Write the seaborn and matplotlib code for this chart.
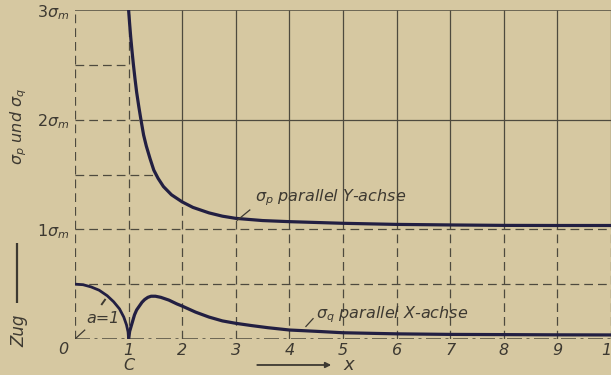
import numpy as np
import pandas as pd
import matplotlib
matplotlib.use("Agg")
import matplotlib.pyplot as plt
from matplotlib.lines import Line2D
import seaborn as sns

# ---------------- data ----------------
x_ticks = [1, 2, 3, 4, 5, 6, 7, 8, 9, 10]
x_tick_labels = ["1", "2", "3", "4", "5", "6", "7", "8", "9", "10"]
y_ticks = [1, 2, 3]
y_tick_labels = [r"$1\sigma_m$", r"$2\sigma_m$", r"$3\sigma_m$"]

# sigma_p (parallel Y-axis), in units of sigma_m
sigma_p_x = [1.0, 1.02, 1.04, 1.065, 1.09, 1.12, 1.15, 1.19, 1.23, 1.28, 1.33, 1.40,
             1.47, 1.55, 1.65, 1.80, 2.0, 2.2, 2.5, 2.75, 3.0, 3.5, 4.0, 5.0, 6.0,
             7.0, 8.0, 9.0, 10.0]
sigma_p = [3.0, 2.87, 2.75, 2.62, 2.5, 2.37, 2.25, 2.12, 2.0, 1.86, 1.76, 1.645,
           1.54, 1.465, 1.39, 1.315, 1.25, 1.20, 1.15, 1.12, 1.10, 1.08, 1.07, 1.055,
           1.045, 1.04, 1.036, 1.035, 1.035]

# sigma_q (parallel X-axis)
sigma_q_x = [1.0, 1.02, 1.05, 1.08, 1.11, 1.15, 1.2, 1.25, 1.3, 1.36, 1.42, 1.5,
             1.6, 1.75, 1.9, 2.0, 2.25, 2.5, 2.75, 3.0, 3.3, 3.6, 4.0, 4.5, 5.0,
             6.0, 7.0, 8.0, 9.0, 10.0]
sigma_q = [0.0, 0.07, 0.12, 0.17, 0.22, 0.265, 0.30, 0.335, 0.36, 0.38, 0.39, 0.39,
           0.38, 0.355, 0.32, 0.30, 0.245, 0.20, 0.165, 0.143, 0.122, 0.103, 0.082,
           0.07, 0.057, 0.047, 0.042, 0.04, 0.038, 0.037]

# outline of the hole (radius a = 1)
hole_x = [0.0, 0.15, 0.3, 0.45, 0.6, 0.72, 0.83, 0.91, 0.96, 0.99, 1.0]
hole_y = [0.5, 0.495, 0.475, 0.445, 0.395, 0.34, 0.275, 0.2, 0.13, 0.065, 0.0]

# ---------------- style ----------------
BG = "#d6c8a1"
INK = "#221f42"
GRID = "#4e4a3e"
TXT = "#3d3931"

sns.set_theme(style="white", rc={"figure.facecolor": BG, "axes.facecolor": BG})
plt.rcParams["font.family"] = ["DejaVu Sans"]
plt.rcParams["mathtext.fontset"] = "dejavusans"
plt.rcParams["lines.solid_capstyle"] = "butt"

fig = plt.figure(figsize=(6.11, 3.75), dpi=100, facecolor=BG)
ax = fig.add_axes([75 / 611, 36 / 375, 536 / 611, 329 / 375])
ax.set_facecolor(BG)
ax.set_xlim(0, 9.98)
ax.set_ylim(0, 3)
for s in ax.spines.values():
    s.set_visible(False)

dash = (0, (7, 4))
glw = 0.9
xp_inc = sigma_p[::-1]
xx_inc = sigma_p_x[::-1]

# vertical grid lines
ax.plot([0, 0], [0, 3], color=GRID, lw=glw, ls=dash)
ax.plot([1, 1], [0, 3], color=GRID, lw=glw, ls=dash)
for k in range(2, 11):
    yc = np.interp(k, sigma_p_x, sigma_p)
    ax.plot([k, k], [yc, 3], color=GRID, lw=glw)
    ax.plot([k, k], [0, yc], color=GRID, lw=glw, ls=dash)

# horizontal grid lines
ax.plot([0, 10], [3, 3], color=GRID, lw=glw * 1.2)
xc2 = np.interp(2, xp_inc, xx_inc)
ax.plot([0, xc2], [2, 2], color=GRID, lw=glw, ls=dash)
ax.plot([xc2, 10], [2, 2], color=GRID, lw=glw)
ax.plot([0, 1], [2.5, 2.5], color=GRID, lw=glw, ls=dash)
ax.plot([0, np.interp(1.5, xp_inc, xx_inc)], [1.5, 1.5], color=GRID, lw=glw, ls=dash)
ax.plot([0, 10], [1, 1], color=GRID, lw=glw, ls=dash)
ax.plot([0, 10], [0.5, 0.5], color=GRID, lw=glw, ls=dash)
ax.plot([0, 10], [0, 0], color=GRID, lw=glw * 1.2, ls=(0, (10, 3, 2, 3)))

# curves
df_p = pd.DataFrame({"x": sigma_p_x, "y": sigma_p})
df_q = pd.DataFrame({"x": sigma_q_x, "y": sigma_q})
df_h = pd.DataFrame({"x": hole_x, "y": hole_y})
sns.lineplot(data=df_p, x="x", y="y", ax=ax, color=INK, lw=2.3, sort=False, estimator=None)
sns.lineplot(data=df_q, x="x", y="y", ax=ax, color=INK, lw=2.3, sort=False, estimator=None)
sns.lineplot(data=df_h, x="x", y="y", ax=ax, color=INK, lw=2.0, sort=False, estimator=None)
ax.set_xlabel("")
ax.set_ylabel("")

# ticks
ax.set_xticks(x_ticks, x_tick_labels)
ax.set_yticks(y_ticks, y_tick_labels)
ax.tick_params(axis="both", length=0, labelsize=11.5, colors=TXT)
ax.tick_params(axis="x", pad=3)
ax.tick_params(axis="y", pad=4)
for lab in ax.get_xticklabels() + ax.get_yticklabels():
    lab.set_fontstyle("italic")

ax.text(-0.22, -0.025, "0", ha="center", va="top", fontsize=11.5, style="italic",
        color=TXT, clip_on=False)
ax.text(1.0, -0.245, "C", ha="center", va="center", fontsize=11.5, style="italic",
        color=TXT, clip_on=False)

# x-axis arrow label
ax.annotate("", xy=(4.78, -0.237), xytext=(3.4, -0.237), annotation_clip=False,
            arrowprops=dict(arrowstyle="-|>", lw=1.3, color=TXT, mutation_scale=8,
                            shrinkA=0, shrinkB=0))
ax.text(5.12, -0.237, r"$x$", ha="center", va="center", fontsize=13, color=TXT,
        clip_on=False)

# curve labels with leader lines
ax.plot([3.02, 3.27], [1.08, 1.18], color=TXT, lw=0.9)
ax.text(3.35, 1.29, r"$\sigma_p$ parallel Y-achse", ha="left", va="center",
        fontsize=11.5, style="italic", color=TXT)
ax.plot([4.3, 4.45], [0.11, 0.19], color=TXT, lw=0.9)
ax.text(4.5, 0.22, r"$\sigma_q$ parallel X-achse", ha="left", va="center",
        fontsize=11.5, style="italic", color=TXT)

# radius a = 1
ax.plot([0, 0.19], [0, 0.085], color=TXT, lw=0.9)
ax.plot([0.49, 0.57], [0.31, 0.365], color=TXT, lw=1.4)
ax.text(0.52, 0.19, "a=1", ha="center", va="center", fontsize=11.5, style="italic",
        color=TXT)

# y-axis label: "Zug ---- sigma_p und sigma_q"
fig.text(19 / 611, 1 - 331 / 375, "Zug", rotation=90, ha="center", va="center",
         fontsize=12, style="italic", color=TXT)
fig.add_artist(Line2D([17 / 611, 17 / 611], [1 - 303 / 375, 1 - 243 / 375],
                      color=TXT, lw=1.6, transform=fig.transFigure))
fig.text(19 / 611, 1 - 126 / 375, r"$\sigma_p$ und $\sigma_q$", rotation=90,
         ha="center", va="center", fontsize=11.5, style="italic", color=TXT)

fig.savefig("out.png", dpi=100, facecolor=BG)
